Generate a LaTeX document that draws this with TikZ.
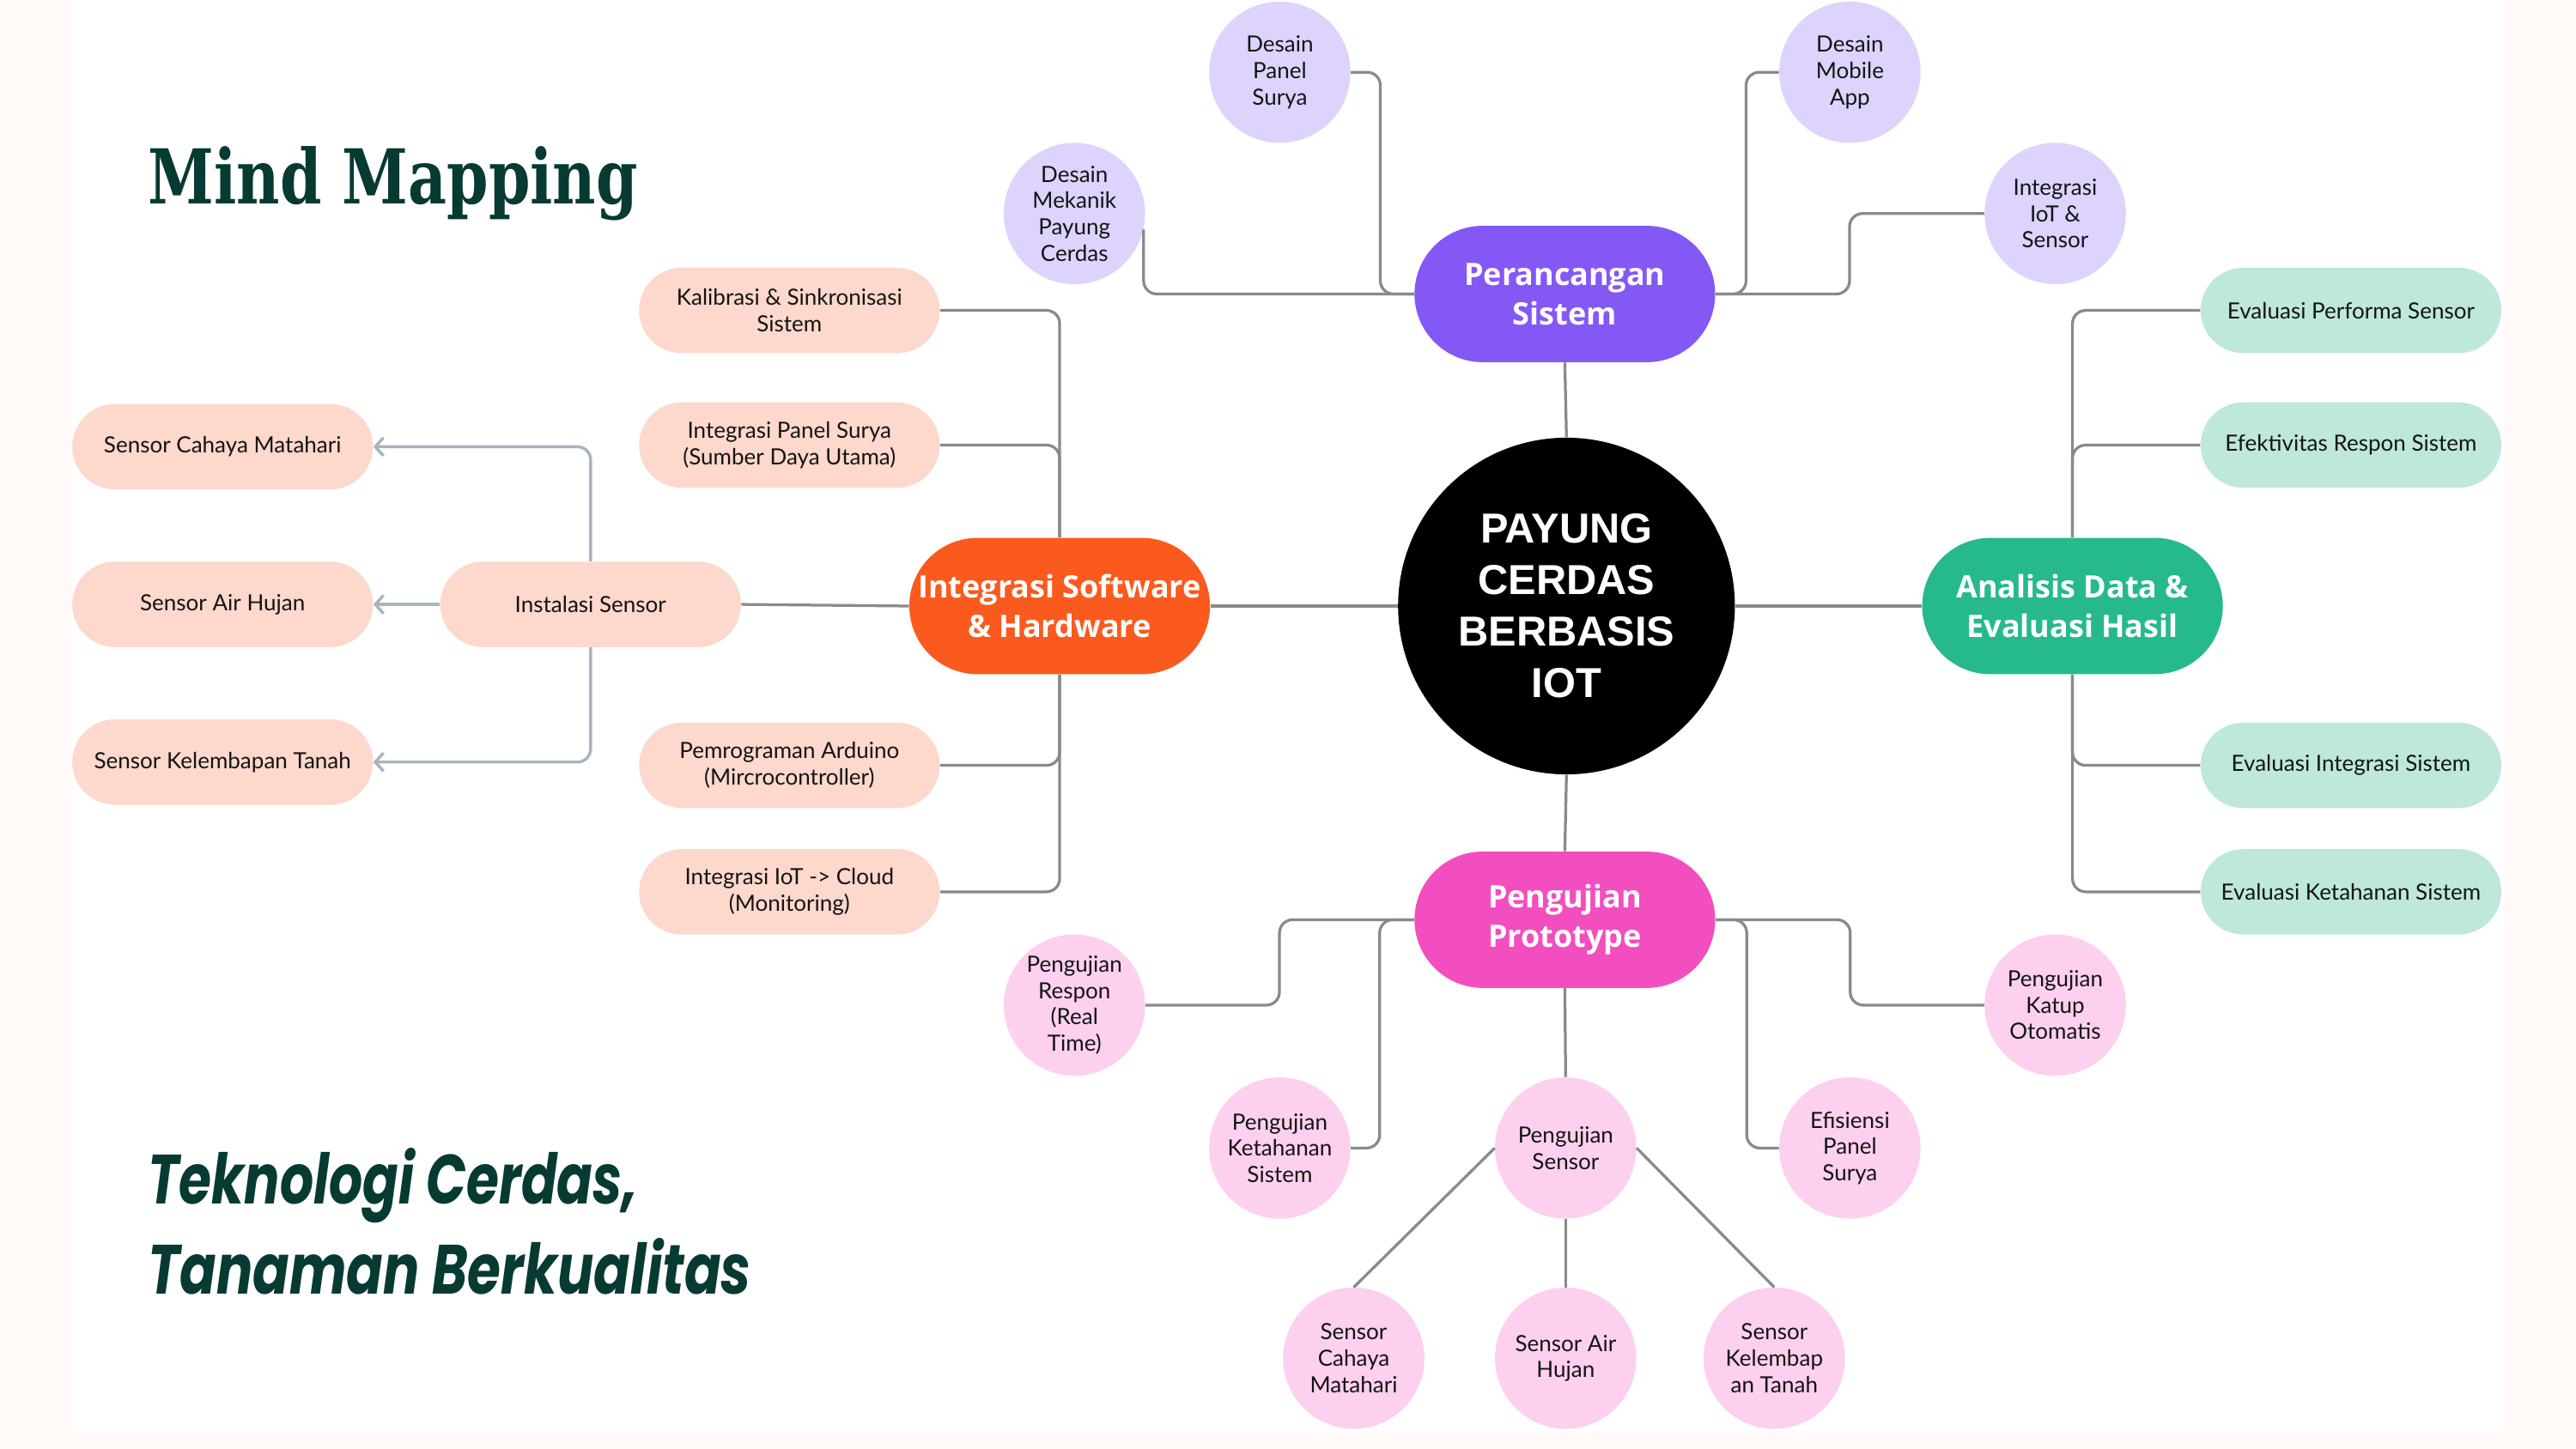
\documentclass[tikz,border=0pt]{standalone}
\usepackage{fontspec}
\usepackage{graphicx}
\usetikzlibrary{arrows.meta}
\newfontfamily\latof{Lato}
\newfontfamily\opensf{Open Sans}
\newfontfamily\libsans{Liberation Sans}
\newfontfamily\dvserif{DejaVu Serif}
\newfontfamily\popf{Poppins}
\newcommand\leaff{\latof\fontsize{13.6}{16}\selectfont}
\newcommand\mainf{\opensf\bfseries\fontsize{18.8}{24}\selectfont}
\newcommand\centf{\libsans\bfseries\fontsize{25.5}{31.4}\selectfont}
\definecolor{bgpale}{HTML}{FFF9F8}
\definecolor{lineg}{HTML}{8A8A8A}
\definecolor{slate}{HTML}{A7B5BF}
\definecolor{titleg}{HTML}{073A33}
\definecolor{cpurple}{HTML}{8458F5}
\definecolor{corange}{HTML}{FA5A1E}
\definecolor{cgreen}{HTML}{26B98E}
\definecolor{cpink}{HTML}{F24EBF}
\definecolor{lav}{HTML}{DDD3FC}
\definecolor{peach}{HTML}{FDD8CC}
\definecolor{mint}{HTML}{BEE8DA}
\definecolor{lpink}{HTML}{FCD0EE}
\definecolor{textdark}{HTML}{141414}
\begin{document}
\begin{tikzpicture}[x={(1pt,0)}, y={(0,-1pt)},
  conn/.style={draw=lineg, line width=1.7pt, rounded corners=8pt},
  arr/.style={draw=slate, line width=1.8pt, rounded corners=8pt, -{Straight Barb[length=5pt,width=11pt]}},
  mainnode/.style={rectangle, rounded corners=41.5pt, minimum width=183pt, minimum height=83pt, inner sep=0pt, text=white, font=\mainf, align=center},
  pill/.style={rectangle, rounded corners=26pt, minimum width=183pt, minimum height=52pt, inner sep=0pt, font=\leaff, align=center, text=textdark},
  bubble/.style={circle, minimum size=86pt, inner sep=0pt, font=\leaff, align=center, text=textdark}]
\useasboundingbox (0,0) rectangle (1568,882);
\fill[bgpale] (0,0) rectangle (1568,882);
\fill[white] (44,0) rectangle (1524,871.5);

% titles
\node[anchor=base west, inner sep=0pt, text=titleg] (title) at (90,124) {\resizebox{298pt}{35pt}{\dvserif\bfseries Mind Mapping}};
\node[anchor=base west, inner sep=0pt, text=titleg] (tag1) at (90,733) {\resizebox{298pt}{34pt}{\popf\bfseries\itshape Teknologi Cerdas,}};
\node[anchor=base west, inner sep=0pt, text=titleg] (tag2) at (90,788) {\resizebox{367pt}{34pt}{\popf\bfseries\itshape Tanaman Berkualitas}};

% center and main nodes
\node[circle, fill=black, minimum size=205pt, inner sep=0pt, text=white, font=\centf, align=center] (C) at (953.5,369) {PAYUNG\\CERDAS\\BERBASIS\\IOT};
\node[mainnode, fill=cpurple] (P) at (952.5,179) {Perancangan\\Sistem};
\node[mainnode, fill=corange] (O) at (645,369) {Integrasi Software\\\& Hardware};
\node[mainnode, fill=cgreen] (G) at (1261.5,369) {Analisis Data \&\\Evaluasi Hasil};
\node[mainnode, fill=cpink] (K) at (952.5,560) {Pengujian\\Prototype};

% purple leaves
\node[bubble, fill=lav] (dps) at (779,44) {Desain\\Panel\\Surya};
\node[bubble, fill=lav] (dma) at (1126,44) {Desain\\Mobile\\App};
\node[bubble, fill=lav] (mek) at (654,130) {Desain\\Mekanik\\Payung\\Cerdas};
\node[bubble, fill=lav] (iot) at (1251,130) {Integrasi\\IoT \&\\Sensor};

% orange leaves
\node[pill, fill=peach] (kal) at (480.5,189) {Kalibrasi \& Sinkronisasi\\Sistem};
\node[pill, fill=peach] (ips) at (480.5,271) {Integrasi Panel Surya\\(Sumber Daya Utama)};
\node[pill, fill=peach] (ins) at (359.5,368) {Instalasi Sensor};
\node[pill, fill=peach] (ard) at (480.5,466) {Pemrograman Arduino\\(Mircrocontroller)};
\node[pill, fill=peach] (cld) at (480.5,543) {Integrasi IoT -> Cloud\\(Monitoring)};
\node[pill, fill=peach] (sc) at (135.5,272) {Sensor Cahaya Matahari};
\node[pill, fill=peach] (sa) at (135.5,368) {Sensor Air Hujan};
\node[pill, fill=peach] (sk) at (135.5,464) {Sensor Kelembapan Tanah};

% green leaves
\node[pill, fill=mint] (eps) at (1431,189) {Evaluasi Performa Sensor};
\node[pill, fill=mint] (ers) at (1431,271) {Efektivitas Respon Sistem};
\node[pill, fill=mint] (eis) at (1431,466) {Evaluasi Integrasi Sistem};
\node[pill, fill=mint] (eks) at (1431,543) {Evaluasi Ketahanan Sistem};

% pink leaves
\node[bubble, fill=lpink] (rsp) at (654,612) {Pengujian\\Respon\\(Real\\Time)};
\node[bubble, fill=lpink] (ket) at (779,699) {Pengujian\\Ketahanan\\Sistem};
\node[bubble, fill=lpink] (ps) at (953,699) {Pengujian\\Sensor};
\node[bubble, fill=lpink] (efi) at (1126,699) {Efisiensi\\Panel\\Surya};
\node[bubble, fill=lpink] (kat) at (1251,612) {Pengujian\\Katup\\Otomatis};
\node[bubble, fill=lpink] (s1) at (824,827) {Sensor\\Cahaya\\Matahari};
\node[bubble, fill=lpink] (s2) at (953,827) {Sensor Air\\Hujan};
\node[bubble, fill=lpink] (s3) at (1080,827) {Sensor\\Kelembap\\an Tanah};

% connectors
\draw[conn] (C.north) -- (P.south);
\draw[conn] (C.west) -- (O.east);
\draw[conn] (C.east) -- (G.west);
\draw[conn] (C.south) -- (K.north);

\draw[conn] (P.west) -| (mek.-13);
\draw[conn] (dps.east) -- ++(18,0) |- (P.west);
\draw[conn] (dma.west) -- ++(-20,0) |- (P.east);
\draw[conn] (iot.west) -- ++(-82,0) |- (P.east);

\draw[conn] (O.north) |- (kal.east);
\draw[conn] (O.north) |- (ips.east);
\draw[conn] (O.south) |- (ard.east);
\draw[conn] (O.south) |- (cld.east);
\draw[conn] (ins.east) -- (O.west);

\draw[arr] (ins.north) |- (sc.east);
\draw[arr] (ins.west) -- (sa.east);
\draw[arr] (ins.south) |- (sk.east);

\draw[conn] (G.north) |- (eps.west);
\draw[conn] (G.north) |- (ers.west);
\draw[conn] (G.south) |- (eis.west);
\draw[conn] (G.south) |- (eks.west);

\draw[conn] (K.west) -- ++(-82,0) |- (rsp.east);
\draw[conn] (K.west) -- ++(-21,0) |- (ket.east);
\draw[conn] (K.east) -- ++(19,0) |- (efi.west);
\draw[conn] (K.east) -- ++(82,0) |- (kat.west);
\draw[conn] (K.south) -- (ps.north);
\draw[conn] (ps.west) -- (s1.north);
\draw[conn] (ps.south) -- (s2.north);
\draw[conn] (ps.east) -- (s3.north);
\end{tikzpicture}
\end{document}
